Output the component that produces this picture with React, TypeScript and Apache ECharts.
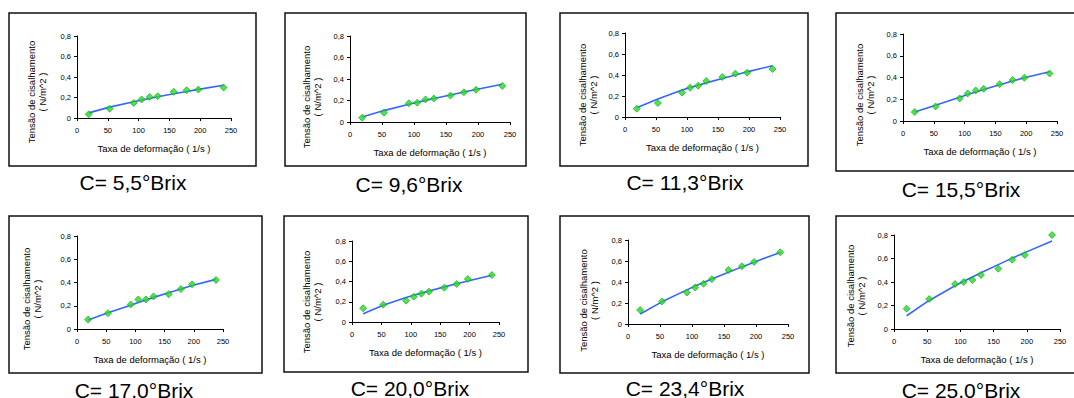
import React, { useEffect, useRef } from "react";
import * as echarts from "echarts";

// Shear rate (1/s), same for all panels
const shearRate = [19, 53, 92, 105, 118, 131, 157, 178, 197, 238];

const captions = [
  "C= 5,5°Brix",
  "C= 9,6°Brix",
  "C= 11,3°Brix",
  "C= 15,5°Brix",
  "C= 17,0°Brix",
  "C= 20,0°Brix",
  "C= 23,4°Brix",
  "C= 25,0°Brix",
];

// Measured shear stress (N/m^2)
const stress_5_5 = [0.036, 0.091, 0.147, 0.18, 0.206, 0.212, 0.255, 0.271, 0.278, 0.297];
const stress_9_6 = [0.04, 0.087, 0.174, 0.18, 0.21, 0.218, 0.246, 0.277, 0.299, 0.336];
const stress_11_3 = [0.079, 0.133, 0.232, 0.279, 0.298, 0.343, 0.381, 0.413, 0.422, 0.457];
const stress_15_5 = [0.082, 0.134, 0.208, 0.253, 0.281, 0.296, 0.339, 0.376, 0.397, 0.437];
const stress_17_0 = [0.081, 0.136, 0.211, 0.254, 0.254, 0.28, 0.3, 0.344, 0.384, 0.422];
const stress_20_0 = [0.135, 0.171, 0.211, 0.25, 0.28, 0.3, 0.339, 0.375, 0.425, 0.464];
const stress_23_4 = [0.133, 0.215, 0.3, 0.348, 0.383, 0.427, 0.515, 0.55, 0.591, 0.683];
const stress_25_0 = [0.173, 0.255, 0.383, 0.4, 0.417, 0.46, 0.513, 0.59, 0.63, 0.8];

// Fitted curve read at the same shear rates
const fit_5_5 = [0.05, 0.106, 0.159, 0.176, 0.191, 0.207, 0.236, 0.259, 0.279, 0.32];
const fit_9_6 = [0.047, 0.106, 0.165, 0.183, 0.201, 0.218, 0.252, 0.279, 0.302, 0.352];
const fit_11_3 = [0.089, 0.172, 0.256, 0.28, 0.303, 0.325, 0.367, 0.4, 0.43, 0.489];
const fit_15_5 = [0.082, 0.145, 0.219, 0.243, 0.267, 0.29, 0.333, 0.368, 0.398, 0.452];
const fit_17_0 = [0.078, 0.14, 0.205, 0.228, 0.25, 0.272, 0.312, 0.345, 0.375, 0.427];
const fit_20_0 = [0.082, 0.165, 0.241, 0.264, 0.285, 0.306, 0.347, 0.378, 0.405, 0.461];
const fit_23_4 = [0.095, 0.211, 0.325, 0.361, 0.395, 0.428, 0.493, 0.544, 0.589, 0.682];
const fit_25_0 = [0.113, 0.243, 0.368, 0.406, 0.443, 0.479, 0.548, 0.603, 0.65, 0.749];

const stressSeries = [stress_5_5, stress_9_6, stress_11_3, stress_15_5, stress_17_0, stress_20_0, stress_23_4, stress_25_0];
const fitSeries = [fit_5_5, fit_9_6, fit_11_3, fit_15_5, fit_17_0, fit_20_0, fit_23_4, fit_25_0];

const xTicks = [0, 50, 100, 150, 200, 250];
const yTicks = [0, 0.2, 0.4, 0.6, 0.8];
const xTitle = "Taxa de deformação ( 1/s )";
const yTitle = "Tensão de cisalhamento\n( N/m^2 )";

// Layout (pixels)
const layouts = [
  { gl: 77, gt: 36, gw: 154, gh: 82, bx: 9, by: 13, bw: 247, bh: 153, cx: 133, cy: 182.5, tx: 37, ty: 92 },
  { gl: 350, gt: 36, gw: 160, gh: 86, bx: 285, by: 13, bw: 241, bh: 153, cx: 409, cy: 184, tx: 311.5, ty: 97 },
  { gl: 625, gt: 33, gw: 155, gh: 84, bx: 560, by: 13, bw: 248, bh: 153, cx: 685, cy: 182.5, tx: 587.5, ty: 95 },
  { gl: 903, gt: 34, gw: 154, gh: 87, bx: 836, by: 13, bw: 260, bh: 158, cx: 961, cy: 189, tx: 865, ty: 95 },
  { gl: 77, gt: 236, gw: 146, gh: 93, bx: 9, by: 216, bw: 253, bh: 157, cx: 134, cy: 390, tx: 32, ty: 299 },
  { gl: 352, gt: 241, gw: 147, gh: 81, bx: 284, by: 216, bw: 244, bh: 156, cx: 410, cy: 388.5, tx: 312, ty: 302 },
  { gl: 628, gt: 240, gw: 160, gh: 84, bx: 560, by: 216, bw: 249, bh: 157, cx: 685, cy: 388.5, tx: 589, ty: 300.5 },
  { gl: 894, gt: 235, gw: 166, gh: 94, bx: 836, by: 216, bw: 260, bh: 157, cx: 961, cy: 390, tx: 855.5, ty: 296 },
];

const FONT = "'Liberation Sans', Arial, sans-serif";

export default function App() {
  const ref = useRef<HTMLDivElement>(null);
  useEffect(() => {
    if (!ref.current) return;
    const chart = echarts.init(ref.current, undefined, { renderer: "svg" });
    const fmtY = (v: number) => (v === 0 ? "0" : v.toFixed(1).replace(".", ","));
    const graphics: any[] = [];
    layouts.forEach((l, i) => {
      graphics.push({
        type: "rect",
        shape: { x: l.bx, y: l.by, width: l.bw, height: l.bh },
        style: { fill: "none", stroke: "#111", lineWidth: 1.5 },
        silent: true,
      });
      graphics.push({
        type: "text",
        x: l.cx,
        y: l.cy,
        style: {
          text: captions[i],
          font: `21px ${FONT}`,
          fill: "#000",
          align: "center",
          verticalAlign: "middle",
        },
      });
      graphics.push({
        type: "text",
        x: l.tx,
        y: l.ty,
        rotation: Math.PI / 2,
        style: {
          text: yTitle,
          font: `9.5px ${FONT}`,
          fill: "#000",
          align: "center",
          verticalAlign: "middle",
          lineHeight: 11,
        },
      });
    });

    const option: any = {
      animation: false,
      backgroundColor: "#fff",
      textStyle: { fontFamily: FONT },
      grid: layouts.map((l) => ({ left: l.gl, top: l.gt, width: l.gw, height: l.gh })),
      xAxis: layouts.map((_, i) => ({
        type: "value",
        gridIndex: i,
        min: xTicks[0],
        max: xTicks[xTicks.length - 1],
        interval: xTicks[1] - xTicks[0],
        name: xTitle,
        nameLocation: "middle",
        nameGap: 30,
        nameTextStyle: { fontSize: 9.5, color: "#000", verticalAlign: "middle", fontFamily: FONT },
        axisLine: { show: true, lineStyle: { color: "#000", width: 1 } },
        axisTick: { show: true, length: 3, lineStyle: { color: "#000" } },
        axisLabel: { fontSize: 7.5, color: "#000", margin: 8, fontFamily: FONT },
        splitLine: { show: false },
      })),
      yAxis: layouts.map((_, i) => ({
        type: "value",
        gridIndex: i,
        min: yTicks[0],
        max: yTicks[yTicks.length - 1],
        interval: yTicks[1] - yTicks[0],
        axisLine: { show: true, lineStyle: { color: "#000", width: 1 } },
        axisTick: { show: true, length: 3, lineStyle: { color: "#000" } },
        axisLabel: { fontSize: 7.5, color: "#000", margin: 6, formatter: fmtY, fontFamily: FONT },
        splitLine: { show: false },
      })),
      series: layouts.flatMap((_, i) => [
        {
          type: "line",
          xAxisIndex: i,
          yAxisIndex: i,
          data: shearRate.map((x, k) => [x, fitSeries[i][k]]),
          symbol: "none",
          smooth: false,
          lineStyle: { color: "#3366ff", width: 1.6 },
          z: 2,
        },
        {
          type: "scatter",
          xAxisIndex: i,
          yAxisIndex: i,
          data: shearRate.map((x, k) => [x, stressSeries[i][k]]),
          symbol: "diamond",
          symbolSize: 7,
          itemStyle: { color: "#1ee01e", borderColor: "#0c8c0c", borderWidth: 0.7 },
          z: 3,
        },
      ]),
      graphic: graphics,
    };
    chart.setOption(option);
    return () => chart.dispose();
  }, []);
  return (
    <div
      ref={ref}
      style={{ position: "absolute", left: 0, top: 0, width: 1074, height: 398 }}
    />
  );
}
